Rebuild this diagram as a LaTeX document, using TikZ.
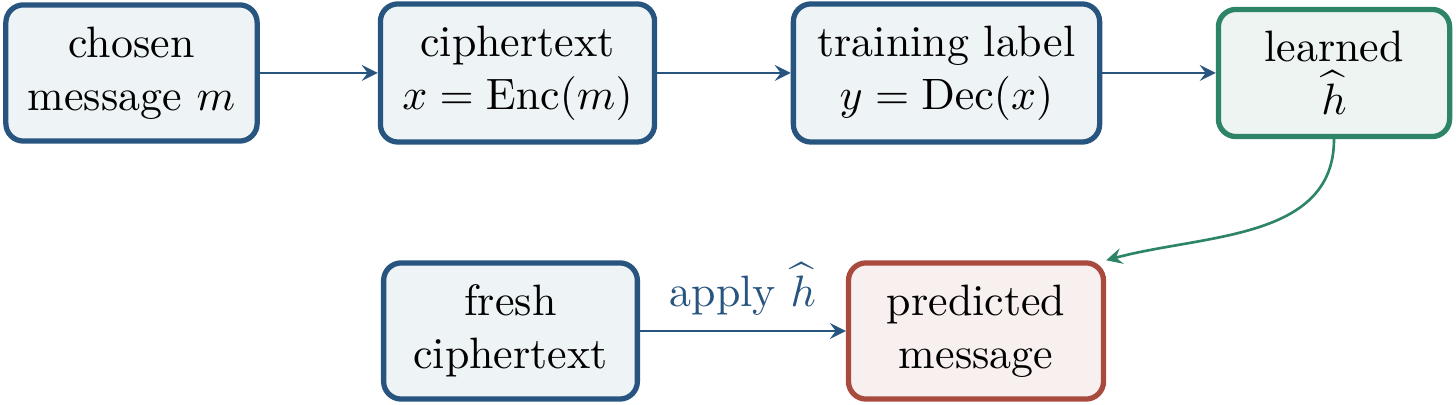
\documentclass[tikz,border=0pt]{standalone}
\usetikzlibrary{arrows}

\definecolor{stepblue}{RGB}{40,85,127}
\definecolor{stepbluefill}{RGB}{238,243,246}
\definecolor{learngreen}{RGB}{46,132,102}
\definecolor{learngreenfill}{RGB}{238,244,241}
\definecolor{predred}{RGB}{169,74,62}
\definecolor{predredfill}{RGB}{248,240,239}

\begin{document}
\begin{tikzpicture}[>=stealth,semithick,
  box/.style={rounded corners=4pt,very thick,align=center,inner sep=5pt},
  bluebox/.style={box,draw=stepblue,fill=stepbluefill},
  greenbox/.style={box,draw=learngreen,fill=learngreenfill},
  redbox/.style={box,draw=predred,fill=predredfill}]
\useasboundingbox (0,0) rectangle (11.648,3.24);

% training pipeline, top row
\node[bluebox,minimum width=2.01cm] (chosen) at (1.052,2.656) {chosen\\message \(m\)};
\node[bluebox,minimum width=2.19cm] (cipher) at (4.14,2.656) {ciphertext\\\(x=\mathrm{Enc}(m)\)};
\node[bluebox,minimum width=2.45cm] (label) at (7.572,2.656) {training label\\\(y=\mathrm{Dec}(x)\)};
\node[greenbox,minimum width=1.85cm] (learned) at (10.672,2.656) {learned\\\(\widehat{h}\)};

% attack on a new ciphertext, bottom row
\node[bluebox,minimum width=2.03cm] (fresh) at (4.084,0.592) {fresh\\ciphertext};
\node[redbox,minimum width=2.04cm] (predicted) at (7.808,0.592) {predicted\\message};

\draw[->,stepblue] (chosen) -- (cipher);
\draw[->,stepblue] (cipher) -- (label);
\draw[->,stepblue] (label) -- (learned);
\draw[->,stepblue] (fresh) -- node[above,text=stepblue] {apply \(\widehat{h}\)} (predicted);
\draw[->,learngreen] (learned.south) to[out=-90,in=15] (predicted.north east);
\end{tikzpicture}
\end{document}
